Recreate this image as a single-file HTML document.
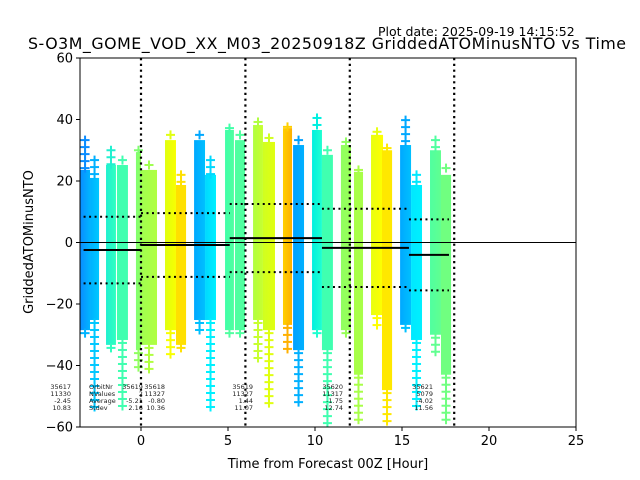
<!DOCTYPE html>
<html><head><meta charset="utf-8"><style>
body{margin:0;background:#fff}
svg{display:block;font-family:"DejaVu Sans","Liberation Sans",sans-serif}
</style></head><body>
<svg id="chart" width="640" height="480" viewBox="0 0 640 480">
<text x="378" y="36" font-size="12.5">Plot date: 2025-09-19 14:15:52</text>
<text x="327" y="49" font-size="15.8" text-anchor="middle" textLength="598">S-O3M_GOME_VOD_XX_M03_20250918Z GriddedATOMinusNTO vs Time</text>
<g id="plot"></g>
<rect x="80" y="58" width="496" height="369" fill="none" stroke="#000" stroke-width="1"/>
<g id="axes"></g>
<text x="328" y="468" font-size="13" text-anchor="middle">Time from Forecast 00Z [Hour]</text>
<text x="33" y="242" font-size="13" text-anchor="middle" transform="rotate(-90 33 242)">GriddedATOMinusNTO</text>
</svg>
<script>
const xTicks=[0,5,10,15,20,25];
const yTicks=[60,40,20,0,-20,-40,-60];
const vLines=[0,6,12,18];
// columns: start hour, end hour, dense top, dense bottom, outlier top, outlier bottom
const colT0=[-3.5,-2.93,-2.01,-1.38,-0.29,0,1.38,2.01,3.05,3.68,4.83,5.4,6.44,7.01,8.16,8.74,9.83,10.4,11.49,12.24,13.22,13.85,14.89,15.52,16.61,17.24];
const colT1=[-2.93,-2.41,-1.44,-0.75,0,0.92,2.01,2.59,3.68,4.31,5.34,5.98,7.01,7.7,8.68,9.37,10.4,11.03,12.07,12.76,13.91,14.43,15.52,16.15,17.24,17.82];
const denseTop=[23.6,21,25.2,25.2,29.4,23.6,33.3,18.7,33.3,22,36.6,33.3,38.2,32.7,37.2,31.7,36.6,28.5,31.7,23,35,30,31.7,18.7,30,22];
const denseBot=[-28.5,-25.2,-33.3,-31.7,-35,-33.3,-28.5,-33.3,-25.2,-25.2,-28.5,-28.5,-25.2,-28.5,-26.8,-35,-28.5,-35,-28.5,-43,-23.6,-48,-26.8,-31.7,-30,-43];
const outTop=[33.3,26.8,30,26.8,30,25.2,35,22,35,26.8,37.2,35,39.2,34,37.6,33.3,40.5,30,32.7,23.6,36,30.7,39.8,22,33.3,24.2];
const outBot=[-31,-54.5,-35,-53.8,-41.5,-41.5,-36.6,-35,-28.5,-53.8,-30,-31.7,-38.2,-54.5,-35.6,-52.8,-31.7,-59.3,-31.7,-59.3,-28.5,-59.3,-29.1,-55.1,-36.6,-59.3];
const colC0=["#0a8cff","#00b0ff","#20f0d0","#40ffb0","#80ff70","#a0ff50","#e0ff10","#ffe000","#00a8ff","#00d8ff","#40ffa8","#50ffa0","#b0ff40","#d0ff20","#ffd000","#00a0ff","#00f0e0","#40ffb0","#90ff60","#a8ff48","#e8ff10","#ffe800","#00a8ff","#00e8ff","#50ffa0","#70ff80"];
const colC1=["#00b4ff","#00c8ff","#30ffc0","#40ffb0","#90ff60","#b0ff40","#f8ff00","#ffe000","#00c0ff","#00f0ff","#50ffa0","#50ffa0","#c8ff30","#e0ff10","#ffb000","#00b0ff","#20ffd0","#40ffb0","#98ff58","#a8ff48","#ffff00","#ffe800","#00c0ff","#00f0ff","#60ff90","#70ff80"];
// segments
const segT0=[-3.3,0.0,5.1,10.4,15.4];
const segT1=[0.0,5.1,10.4,15.4,17.7];
const segMean=[-2.45,-0.80,1.44,-1.75,-4.02];
const segSd=[10.83,10.36,11.07,12.74,11.56];
const orbitNr=["35617","35618","35619","35620","35621"];
const nValues=["11330","11327","11327","11317","5079"];
const statAnchor=[-4.02,1.38,6.44,11.61,16.78];

const X=h=>141+h*17.4;
const Y=v=>242.5-v*3.075;
const NS="http://www.w3.org/2000/svg";
const svg=document.getElementById('chart');
const plot=document.getElementById('plot');
const axes=document.getElementById('axes');
function mk(tag,attrs,parent){const e=document.createElementNS(NS,tag);for(const k in attrs)e.setAttribute(k,attrs[k]);parent.appendChild(e);return e;}
const defs=mk('defs',{},svg);
const clip=mk('clipPath',{id:'pc'},defs);mk('rect',{x:80,y:58,width:496,height:369},clip);
plot.setAttribute('clip-path','url(#pc)');

function plus(cx,cy,col,name){
  const g=mk('g',{},plot);
  
  
  mk('rect',{x:cx-4.5,y:cy-1,width:9,height:2,fill:col},g);
  mk('rect',{x:cx-1,y:cy-4.5,width:2,height:9,fill:col},g);
}
for(let i=0;i<colT0.length;i++){
  const gr=mk('linearGradient',{id:'g'+i,x1:0,x2:1,y1:0,y2:0},defs);
  mk('stop',{offset:0,'stop-color':colC0[i]},gr);
  mk('stop',{offset:1,'stop-color':colC1[i]},gr);
  const x0=X(colT0[i]),x1=X(colT1[i]);
  const r=mk('rect',{x:x0,y:Y(denseTop[i]),width:x1-x0,height:Y(denseBot[i])-Y(denseTop[i]),fill:'url(#g'+i+')'},plot);
  
  
  const cx=(x0+x1)/2;
  for(let y=Y(outTop[i]);y<Y(denseTop[i]);y+=7){plus(cx,y,colC0[i],'outlier-marker');}
  for(let y=Y(denseBot[i])+3;y<=Y(outBot[i]);y+=7){plus(cx,y,colC1[i],'outlier-marker');}
}
let z=mk('line',{x1:80,x2:576,y1:Y(0),y2:Y(0),stroke:'#000','stroke-width':1},plot);

vLines.forEach(h=>{const l=mk('line',{x1:X(h),x2:X(h),y1:58,y2:427,stroke:'#000','stroke-width':2.2,'stroke-dasharray':'2.2 3.6'},plot);
 });
for(let i=0;i<segT0.length;i++){
  const a=X(segT0[i]),b=X(segT1[i]);
  const m=mk('line',{x1:a,x2:b,y1:Y(segMean[i]),y2:Y(segMean[i]),stroke:'#000','stroke-width':2},plot);
  
  [1,-1].forEach(s=>{const d=mk('line',{x1:a,x2:b,y1:Y(segMean[i]+s*segSd[i]),y2:Y(segMean[i]+s*segSd[i]),stroke:'#000','stroke-width':2,'stroke-dasharray':'2 3.5'},plot);
   });
  const vals=[orbitNr[i],nValues[i],segMean[i].toFixed(2),segSd[i].toFixed(2)];
  vals.forEach((v,k)=>{const t=mk('text',{x:X(statAnchor[i]),y:389+k*7,'font-size':6.5,'text-anchor':'end',fill:'#222'},svg);t.textContent=v;
   });
}
['OrbitNr','NValues','Average','Stdev'].forEach((v,k)=>{const t=mk('text',{x:89,y:389+k*7,'font-size':6.5,fill:'#222'},svg);t.textContent=v;
 });
['35619','2','-5.21','2.16'].forEach((v,k)=>{const t=mk('text',{x:X(0.11),y:389+k*7,'font-size':6.5,'text-anchor':'end',fill:'#222'},svg);t.textContent=v;
 });
xTicks.forEach(v=>{mk('line',{x1:X(v),x2:X(v),y1:427,y2:431,stroke:'#000'},axes);
 const t=mk('text',{x:X(v),y:445,'font-size':13,'text-anchor':'middle'},axes);t.textContent=v;
 });
yTicks.forEach(v=>{mk('line',{x1:76,x2:80,y1:Y(v),y2:Y(v),stroke:'#000'},axes);
 const t=mk('text',{x:73,y:Y(v)+4.5,'font-size':13,'text-anchor':'end'},axes);t.textContent=(v<0?'\u2212'+(-v):v);
 });
</script>
</body></html>
